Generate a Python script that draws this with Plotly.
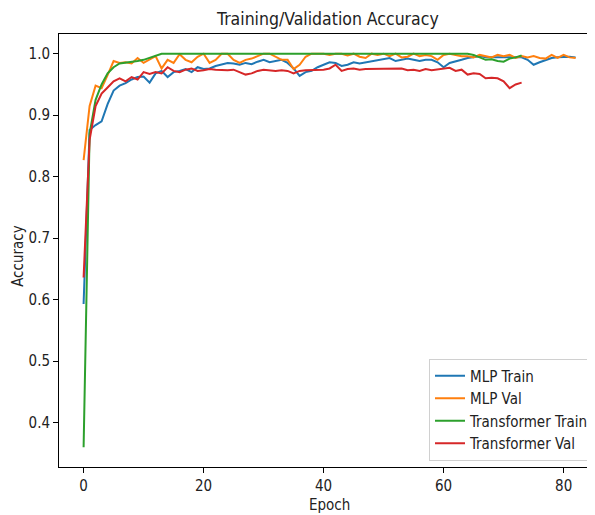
import plotly.graph_objects as go

mlp_train = [0.593, 0.876, 0.884, 0.89, 0.918, 0.94, 0.948, 0.952, 0.958, 0.962,
             0.963, 0.953, 0.968, 0.972, 0.962, 0.97, 0.972, 0.975, 0.97, 0.978,
             0.975, 0.976, 0.98, 0.982, 0.985, 0.984, 0.982, 0.985, 0.983, 0.987,
             0.99, 0.986, 0.988, 0.99, 0.985, 0.976, 0.964, 0.97, 0.972, 0.978,
             0.982, 0.986, 0.985, 0.98, 0.982, 0.986, 0.984, 0.986, 0.988, 0.99,
             0.991, 0.993, 0.988, 0.99, 0.992, 0.99, 0.988, 0.99, 0.99, 0.986,
             0.978, 0.985, 0.987, 0.99, 0.993, 0.995, 0.996, 0.994, 0.994, 0.993,
             0.994, 0.994, 0.993, 0.994, 0.99, 0.982, 0.986, 0.99, 0.993, 0.994,
             0.995, 0.995, 0.994]
mlp_val = [0.827, 0.915, 0.948, 0.944, 0.965, 0.988, 0.985, 0.986, 0.984, 0.993,
           0.985, 0.99, 0.996, 0.976, 0.99, 0.985, 0.999, 0.99, 0.986, 0.995,
           1.0, 0.985, 0.99, 1.0, 1.0, 0.99, 0.985, 0.99, 0.992, 0.996,
           1.0, 1.0, 0.995, 0.99, 0.99, 0.975, 0.982, 0.995, 1.0, 1.0,
           1.0, 0.998, 1.0, 1.0, 0.997, 1.0, 0.995, 0.993, 1.0, 0.998,
           1.0, 0.996, 1.0, 0.994, 0.995, 1.0, 0.996, 0.998, 0.996, 0.99,
           0.998, 1.0, 0.998, 0.996, 0.996, 0.994, 0.998, 0.996, 0.994, 0.998,
           0.996, 0.998, 0.993, 0.996, 0.994, 0.996, 0.993, 0.992, 0.998, 0.993,
           0.998, 0.994, 0.993]
tf_train = [0.36, 0.87, 0.925, 0.95, 0.968, 0.978, 0.984, 0.985, 0.986, 0.988,
            0.99, 0.993, 0.997, 1.0, 1.0, 1.0, 1.0, 1.0, 1.0, 1.0,
            1.0, 1.0, 1.0, 1.0, 1.0, 1.0, 1.0, 1.0, 1.0, 1.0,
            1.0, 1.0, 1.0, 1.0, 1.0, 1.0, 1.0, 1.0, 1.0, 1.0,
            1.0, 1.0, 1.0, 1.0, 1.0, 1.0, 1.0, 1.0, 1.0, 1.0,
            1.0, 1.0, 1.0, 1.0, 1.0, 1.0, 1.0, 1.0, 1.0, 1.0,
            1.0, 1.0, 1.0, 1.0, 1.0, 0.998, 0.994, 0.99, 0.991, 0.988,
            0.987, 0.992, 0.994, 0.997]
tf_val = [0.636, 0.86, 0.915, 0.935, 0.945, 0.955, 0.96, 0.955, 0.962, 0.958,
          0.97, 0.967, 0.97, 0.968, 0.978, 0.972, 0.97, 0.974, 0.976, 0.972,
          0.973, 0.975, 0.974, 0.973, 0.973, 0.974, 0.97, 0.966, 0.968, 0.972,
          0.974, 0.973, 0.972, 0.973, 0.972, 0.968, 0.972, 0.973, 0.973, 0.973,
          0.974, 0.976, 0.982, 0.972, 0.975, 0.976, 0.974, 0.975, 0.975, 0.976,
          0.976, 0.975, 0.975, 0.976, 0.973, 0.974, 0.972, 0.975, 0.973, 0.974,
          0.975, 0.977, 0.972, 0.974, 0.966, 0.968, 0.967, 0.96, 0.961, 0.96,
          0.955, 0.944, 0.95, 0.953]

series = [
    ("MLP Train", mlp_train, "#1f77b4"),
    ("MLP Val", mlp_val, "#ff7f0e"),
    ("Transformer Train", tf_train, "#2ca02c"),
    ("Transformer Val", tf_val, "#d62728"),
]

FONT = "DejaVu Sans Condensed, DejaVu Sans, sans-serif"

fig = go.Figure()
for name, vals, color in series:
    fig.add_trace(go.Scatter(x=list(range(len(vals))), y=vals, mode="lines",
                             name=name, line=dict(color=color, width=2)))

# page body has an 8px default margin, so the figure is 8px smaller each way
fig.update_layout(
    width=587, height=507,
    margin=dict(l=51, r=0, t=26, b=48, autoexpand=False),
    paper_bgcolor="white", plot_bgcolor="white",
    font=dict(family=FONT, size=15, color="#222"),
    title=dict(text="Training/Validation Accuracy", x=0.545, xanchor="center",
               xref="container", yref="container",
               y=0.979, yanchor="middle", font=dict(size=17.5, color="#222")),
    showlegend=True,
    legend=dict(x=1.0, y=0.015, xanchor="right", yanchor="bottom",
                bgcolor="white", bordercolor="#d0d0d0", borderwidth=1,
                font=dict(size=15, color="#222"), itemwidth=30),
    annotations=[
        dict(text="Epoch", xref="paper", yref="paper", x=0.505, y=-0.088,
             xanchor="center", yanchor="middle", showarrow=False,
             font=dict(size=15)),
        dict(text="Accuracy", xref="paper", yref="paper", x=-0.077, y=0.487,
             xanchor="center", yanchor="middle", showarrow=False, textangle=-90,
             font=dict(size=15)),
    ],
)
fig.update_xaxes(range=[-4.1, 85.23], tickvals=[0, 20, 40, 60, 80],
                 showgrid=False, zeroline=False, showline=True, linecolor="black",
                 linewidth=1, mirror=True, ticks="outside", ticklen=5,
                 tickcolor="black", automargin=False)
fig.update_yaxes(range=[0.328, 1.032], tickvals=[0.4, 0.5, 0.6, 0.7, 0.8, 0.9, 1.0],
                 tickformat=".1f", showgrid=False, zeroline=False, showline=True,
                 linecolor="black", linewidth=1, mirror=False, ticks="outside",
                 ticklen=5, tickcolor="black", automargin=False)

fig.write_html("out.html")
